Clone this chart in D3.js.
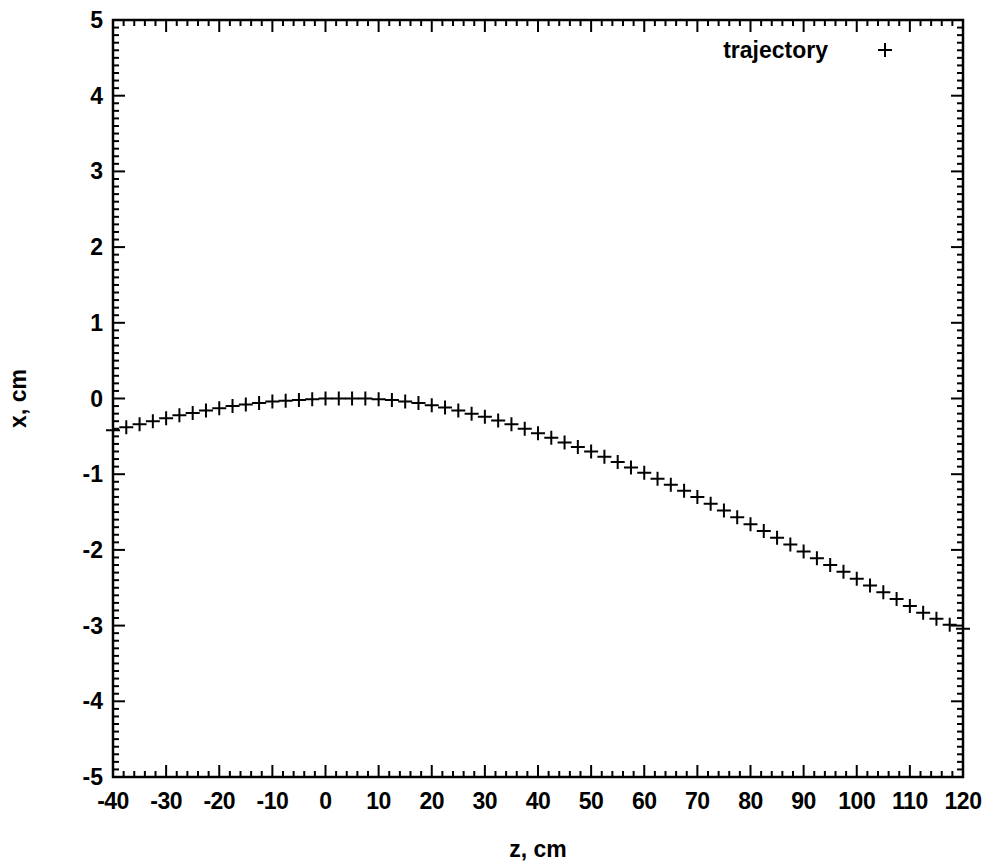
<!doctype html>
<html>
<head>
<meta charset="utf-8">
<script src="https://cdnjs.cloudflare.com/ajax/libs/d3/7.8.5/d3.min.js"></script>
<style>
  body { margin: 0; background: #fff; }
  text { font-family: "Liberation Sans", Arial, sans-serif; font-weight: bold; fill: #000; }
</style>
</head>
<body>
<div id="chart"></div>
<script>
// trajectory samples
const zValues = [-40, -37.5, -35, -32.5, -30, -27.5, -25, -22.5, -20, -17.5, -15, -12.5, -10, -7.5, -5, -2.5,
  0, 2.5, 5, 7.5, 10, 12.5, 15, 17.5, 20, 22.5, 25, 27.5, 30, 32.5, 35, 37.5, 40, 42.5, 45, 47.5,
  50, 52.5, 55, 57.5, 60, 62.5, 65, 67.5, 70, 72.5, 75, 77.5, 80, 82.5, 85, 87.5, 90, 92.5, 95, 97.5,
  100, 102.5, 105, 107.5, 110, 112.5, 115, 117.5, 120];
const xValues = [-0.42, -0.38, -0.34, -0.30, -0.26, -0.22, -0.19, -0.16, -0.13, -0.10, -0.08, -0.06, -0.04, -0.03, -0.02, -0.01,
  0, 0, 0, 0, -0.01, -0.02, -0.04, -0.06, -0.09, -0.12, -0.16, -0.20, -0.24, -0.29, -0.34, -0.40, -0.46, -0.52, -0.58, -0.64,
  -0.70, -0.77, -0.84, -0.91, -0.98, -1.06, -1.14, -1.22, -1.30, -1.39, -1.48, -1.57, -1.66, -1.75, -1.84, -1.93, -2.02, -2.11, -2.20, -2.29,
  -2.38, -2.47, -2.56, -2.65, -2.74, -2.83, -2.91, -2.99, -3.04];
const xTicks = d3.range(-40, 121, 10);
const yTicks = d3.range(-5, 6, 1);

const W = 995, H = 866;
const mLeft = 113, mRight = 963, mTop = 20, mBottom = 777;

const svg = d3.select('#chart').append('svg').attr('width', W).attr('height', H);

const sx = d3.scaleLinear().domain([-40, 120]).range([mLeft, mRight]);
const sy = d3.scaleLinear().domain([-5, 5]).range([mBottom, mTop]);

// ticks drawn inward on all four sides
const g = svg.append('g').attr('stroke', '#000').attr('stroke-width', 2);
d3.range(-40, 120.1, 2).forEach(v => {
  const L = v % 10 === 0 ? 12 : 6;
  g.append('line').attr('x1', sx(v)).attr('x2', sx(v)).attr('y1', mBottom).attr('y2', mBottom - L);
  g.append('line').attr('x1', sx(v)).attr('x2', sx(v)).attr('y1', mTop).attr('y2', mTop + L);
});
d3.range(-5, 5.01, 0.1).forEach(v => {
  const major = Math.abs(v - Math.round(v)) < 1e-6;
  const L = major ? 12 : 6;
  g.append('line').attr('y1', sy(v)).attr('y2', sy(v)).attr('x1', mLeft).attr('x2', mLeft + L);
  g.append('line').attr('y1', sy(v)).attr('y2', sy(v)).attr('x1', mRight).attr('x2', mRight - L);
});

svg.append('rect').attr('x', mLeft).attr('y', mTop).attr('width', mRight - mLeft).attr('height', mBottom - mTop)
  .attr('fill', 'none').attr('stroke', '#000').attr('stroke-width', 2.5);

// tick labels
svg.selectAll('.xl').data(xTicks).join('text')
  .attr('x', d => sx(d)).attr('y', mBottom + 32).attr('text-anchor', 'middle')
  .style('font-size', '23px').style('letter-spacing', '-0.5px').text(d => d);
svg.selectAll('.yl').data(yTicks).join('text')
  .attr('x', mLeft - 10).attr('y', d => sy(d) + 8).attr('text-anchor', 'end')
  .style('font-size', '23px').text(d => d);

// axis titles
svg.append('text').attr('x', (mLeft + mRight) / 2).attr('y', 857).attr('text-anchor', 'middle')
  .style('font-size', '23px').text('z, cm');
svg.append('text').attr('transform', `translate(26,${(mTop + mBottom) / 2}) rotate(-90)`)
  .attr('text-anchor', 'middle').style('font-size', '23px').text('x, cm');

// points as plus signs
const pts = zValues.map((z, i) => [z, xValues[i]]);
const s = 7;
svg.append('g').attr('stroke', '#000').attr('stroke-width', 2)
  .selectAll('path').data(pts).join('path')
  .attr('d', d => `M${sx(d[0]) - s},${sy(d[1])}h${2 * s}M${sx(d[0])},${sy(d[1]) - s}v${2 * s}`);

// legend
svg.append('text').attr('x', 828).attr('y', 58).attr('text-anchor', 'end')
  .style('font-size', '23px').text('trajectory');
svg.append('path').attr('stroke', '#000').attr('stroke-width', 2)
  .attr('d', 'M878,50h14M885,43v14');
</script>
</body>
</html>
